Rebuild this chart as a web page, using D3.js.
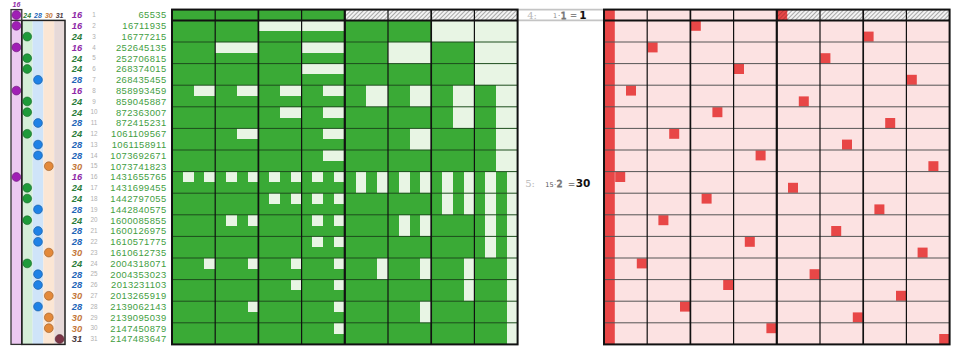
<!DOCTYPE html>
<html><head><meta charset="utf-8">
<script src="https://cdn.jsdelivr.net/npm/d3@7"></script>
<style>html,body{margin:0;padding:0;background:#fff;}svg{display:block;}</style>
</head><body><svg id="c" width="960" height="356"></svg>
<script>
// ---- data ----
const values = [65535,16711935,16777215,252645135,252706815,268374015,268435455,858993459,
  859045887,872363007,872415231,1061109567,1061158911,1073692671,1073741823,1431655765,
  1431699455,1442797055,1442840575,1600085855,1600126975,1610571775,1610612735,2004318071,
  2004353023,2013231103,2013265919,2139062143,2139095039,2147450879,2147483647];
const bitCounts = [16,16,24,16,24,24,28,16,24,24,28,24,28,28,30,16,24,24,28,24,28,28,30,24,28,28,30,28,30,30,31];
const rowLabels = [1,2,3,4,5,6,7,8,9,10,11,12,13,14,15,16,17,18,19,20,21,22,23,24,25,26,27,28,29,30,31];
const countLevels = [16,24,28,30,31];
const circleColors = ["#a01fb5","#1f9a3a","#1f82e6","#e3893a","#7a3446"];
const labelColors  = ["#8d27a6","#2b7d3a","#2265b8","#c4783a","#4a3a40"];
const bandColors   = ["#ecc9f1","#d5eed8","#cfe4f9","#fbe6d4","#e6d9d8"];
const annoSteps   = ["4:","5:"];
const annoLeft    = ["1","15"];
const annoRight   = ["1","2"];
const annoResult  = ["1","30"];

const svg = d3.select("#c");
const defs = svg.append("defs");
const hatch = defs.append("pattern").attr("id","hatch").attr("patternUnits","userSpaceOnUse")
  .attr("width",3).attr("height",3).attr("patternTransform","rotate(45)");
hatch.append("rect").attr("width",3).attr("height",3).attr("fill","#f3f3f3");
hatch.append("line").attr("x1",0.5).attr("y1",0).attr("x2",0.5).attr("y2",3).attr("stroke","#a8a8a8").attr("stroke-width",1);
const hatchT = defs.append("pattern").attr("id","hatchT").attr("patternUnits","userSpaceOnUse")
  .attr("width",3).attr("height",3).attr("patternTransform","rotate(45)");
hatchT.append("line").attr("x1",0.5).attr("y1",0).attr("x2",0.5).attr("y2",3).attr("stroke","#a03030").attr("stroke-width",1).attr("opacity",0.6);

const top0 = 9.6, bot0 = 344.4;
const y = d3.scaleBand().domain(d3.range(values.length)).range([top0, bot0]);
const bits = d3.range(32);
const gx = d3.scaleBand().domain(bits).range([172, 517.6]);
const rx = d3.scaleBand().domain(bits).range([604, 949.6]);
const cx = d3.scaleBand().domain(countLevels).range([11, 65]);
const cidx = c => countLevels.indexOf(c);
const bw = y.bandwidth();

// ---- top rule lines across the middle ----
[top0, y(1)].forEach(v=>{
  svg.append("line").attr("x1",172).attr("x2",950).attr("y1",v).attr("y2",v)
    .attr("stroke","#c4c4c4").attr("stroke-width",1.6);
});

// ---- left panel ----
const L = svg.append("g");
countLevels.forEach((c,k)=>{
  L.append("rect").attr("x",cx(c)).attr("width",cx.bandwidth())
    .attr("y", k===0 ? top0 : y(1)).attr("height", k===0 ? bot0-top0 : bot0-y(1))
    .attr("fill",bandColors[k]);
});
L.append("rect").attr("x",cx(16)).attr("y",top0).attr("width",cx.bandwidth()).attr("height",bot0-top0)
  .attr("fill","none").attr("stroke","#333").attr("stroke-width",1.3);
L.append("rect").attr("x",cx(24)).attr("y",y(1)).attr("width",cx(31)+cx.bandwidth()-cx(24)).attr("height",bot0-y(1))
  .attr("fill","none").attr("stroke","#222").attr("stroke-width",1.5);
L.append("line").attr("x1",cx(16)).attr("x2",cx(24)).attr("y1",y(1)).attr("y2",y(1)).attr("stroke","#333").attr("stroke-width",1.3);
countLevels.forEach((c,k)=>{
  L.append("text").attr("x",cx(c)+cx.bandwidth()/2).attr("y", k===0 ? 7 : y(0)+bw/2+2.5)
    .attr("text-anchor","middle").attr("font-family","Liberation Sans Narrow, Liberation Sans, sans-serif")
    .attr("font-weight","bold").attr("font-style","italic").attr("font-size",7)
    .attr("fill",labelColors[k]).text(c);
});
L.selectAll("circle.dot").data(values).join("circle").attr("class","dot")
  .attr("cx",(d,i)=>cx(bitCounts[i])+cx.bandwidth()/2)
  .attr("cy",(d,i)=>y(i)+bw/2).attr("r",4.4)
  .attr("fill",(d,i)=>circleColors[cidx(bitCounts[i])])
  .attr("stroke",(d,i)=>d3.color(circleColors[cidx(bitCounts[i])]).darker(1.2)).attr("stroke-width",0.6);

// text columns
const T = svg.append("g");
T.selectAll("text.cnt").data(bitCounts).join("text").attr("class","cnt")
  .attr("x",77).attr("y",(d,i)=>y(i)+bw/2+3.3).attr("text-anchor","middle")
  .attr("font-family","Liberation Sans Narrow, Liberation Sans, sans-serif").attr("font-weight","bold").attr("font-style","italic")
  .attr("font-size",9.3).attr("fill",d=>labelColors[cidx(d)]).text(d=>d);
T.selectAll("text.idx").data(rowLabels).join("text").attr("class","idx")
  .attr("x",94).attr("y",(d,i)=>y(i)+bw/2+2.2).attr("text-anchor","middle")
  .attr("font-family","Liberation Sans, sans-serif").attr("font-size",6.3).attr("fill","#b0b0b0").text(d=>d);
T.selectAll("text.val").data(values).join("text").attr("class","val")
  .attr("x",166.5).attr("y",(d,i)=>y(i)+bw/2+3.4).attr("text-anchor","end")
  .attr("font-family","Liberation Sans, sans-serif").attr("font-size",9.4).attr("letter-spacing",0.4)
  .attr("fill","#3f9e3f").text(d=>d);

// ---- green panel ----
const G = svg.append("g");
G.append("rect").attr("x",gx(0)).attr("y",top0).attr("width",gx.range()[1]-gx(0)).attr("height",bot0-top0).attr("fill","#3aaa36");
const gcells = values.flatMap((v,i)=>bits.filter(b=>!((v>>>b)&1)).map(b=>({i,b})));
G.selectAll("rect.off").data(gcells).join("rect").attr("class","off")
  .attr("shape-rendering","crispEdges")
  .attr("x",d=>gx(d.b)).attr("y",d=>y(d.i)).attr("width",gx.bandwidth()).attr("height",bw)
  .attr("fill",d=>d.i===0 ? "url(#hatch)" : "#e8f5e4");

// ---- red panel ----
const R = svg.append("g");
R.append("rect").attr("x",rx(0)).attr("y",top0).attr("width",rx.range()[1]-rx(0)).attr("height",bot0-top0).attr("fill","#fce2e2");
R.selectAll("rect.h").data(bits.filter(b=>!((values[0]>>>b)&1))).join("rect").attr("class","h")
  .attr("shape-rendering","crispEdges")
  .attr("x",b=>rx(b)).attr("y",top0).attr("width",rx.bandwidth()).attr("height",bw).attr("fill","url(#hatch)");
R.append("rect").attr("x",rx(0)).attr("y",top0).attr("width",rx.bandwidth()).attr("height",bot0-top0).attr("fill","#e84747");
const lowZero = values.map(v=>Math.round(Math.log2(((~v)&(v+1))>>>0)));
R.selectAll("rect.z").data(lowZero).join("rect").attr("class","z")
  .attr("x",b=>rx(b)+0.4).attr("y",(b,i)=>y(i)+0.4).attr("width",rx.bandwidth()-0.8).attr("height",bw-0.8)
  .attr("fill","#e84747");
R.append("rect").attr("x",rx(lowZero[0])).attr("y",top0).attr("width",rx.bandwidth()).attr("height",bw).attr("fill","url(#hatchT)");

// ---- grid lines for both panels ----
function gridLines(g, x, hColor){
  const x0 = x.range()[0], x1 = x.range()[1];
  d3.range(3, values.length, 2).forEach(k=>{
    g.append("line").attr("x1",x0).attr("x2",x1).attr("y1",y(k)).attr("y2",y(k)).attr("stroke",hColor).attr("stroke-width",1);
  });
  [4,8,12,16,20,24,28].forEach(b=>{
    const w = b===16 ? 2.2 : (b%8===0 ? 1.7 : 1.2);
    g.append("line").attr("x1",x(b)).attr("x2",x(b)).attr("y1",top0).attr("y2",bot0).attr("stroke","#111").attr("stroke-width",w);
  });
  g.append("line").attr("x1",x0).attr("x2",x1).attr("y1",y(1)).attr("y2",y(1)).attr("stroke","#111").attr("stroke-width",2);
  g.append("rect").attr("x",x0).attr("y",top0).attr("width",x1-x0).attr("height",bot0-top0)
    .attr("fill","none").attr("stroke","#111").attr("stroke-width",2);
}
gridLines(G, gx, "#1d4d1d");
gridLines(R, rx, "#555");

// ---- middle annotations ----
const M = svg.append("g");
const annoY = [y(0)+bw/2+3.6, 187.4];
const annoX = [[532,555,559.2,563.6,573.5,583],[530,549.5,555,559.5,571.5,583]];
annoSteps.forEach((s,k)=>{
  const X = annoX[k], Y = annoY[k];
  M.append("text").attr("x",X[0]).attr("y",Y).attr("text-anchor","middle").attr("font-family","DejaVu Serif, serif")
    .attr("font-size",10).attr("fill","#b8b8b8").text(s);
  M.append("text").attr("x",X[1]).attr("y",Y-0.5).attr("text-anchor","middle").attr("font-family","DejaVu Sans, sans-serif")
    .attr("font-size",6.5).attr("fill", k===0 ? "#8a8a8a" : "#555").text(annoLeft[k]);
  M.append("text").attr("x",X[2]).attr("y",Y-0.8).attr("text-anchor","middle").attr("font-family","DejaVu Sans, sans-serif")
    .attr("font-size",7).attr("fill","#666").text("·");
  M.append("text").attr("x",X[3]).attr("y",Y).attr("text-anchor","middle").attr("font-family","DejaVu Sans, sans-serif")
    .attr("font-size",9).attr("fill","#fff").attr("stroke","#777").attr("stroke-width",0.8).text(annoRight[k]);
  M.append("text").attr("x",X[4]).attr("y",Y-0.3).attr("text-anchor","middle").attr("font-family","DejaVu Sans, sans-serif")
    .attr("font-size",9).attr("fill","#222").text("=");
  M.append("text").attr("x",X[5]).attr("y",Y).attr("text-anchor","middle").attr("font-family","DejaVu Sans, sans-serif")
    .attr("font-weight","bold").attr("font-size",10.5).attr("fill","#111").text(annoResult[k]);
});
</script></body></html>
